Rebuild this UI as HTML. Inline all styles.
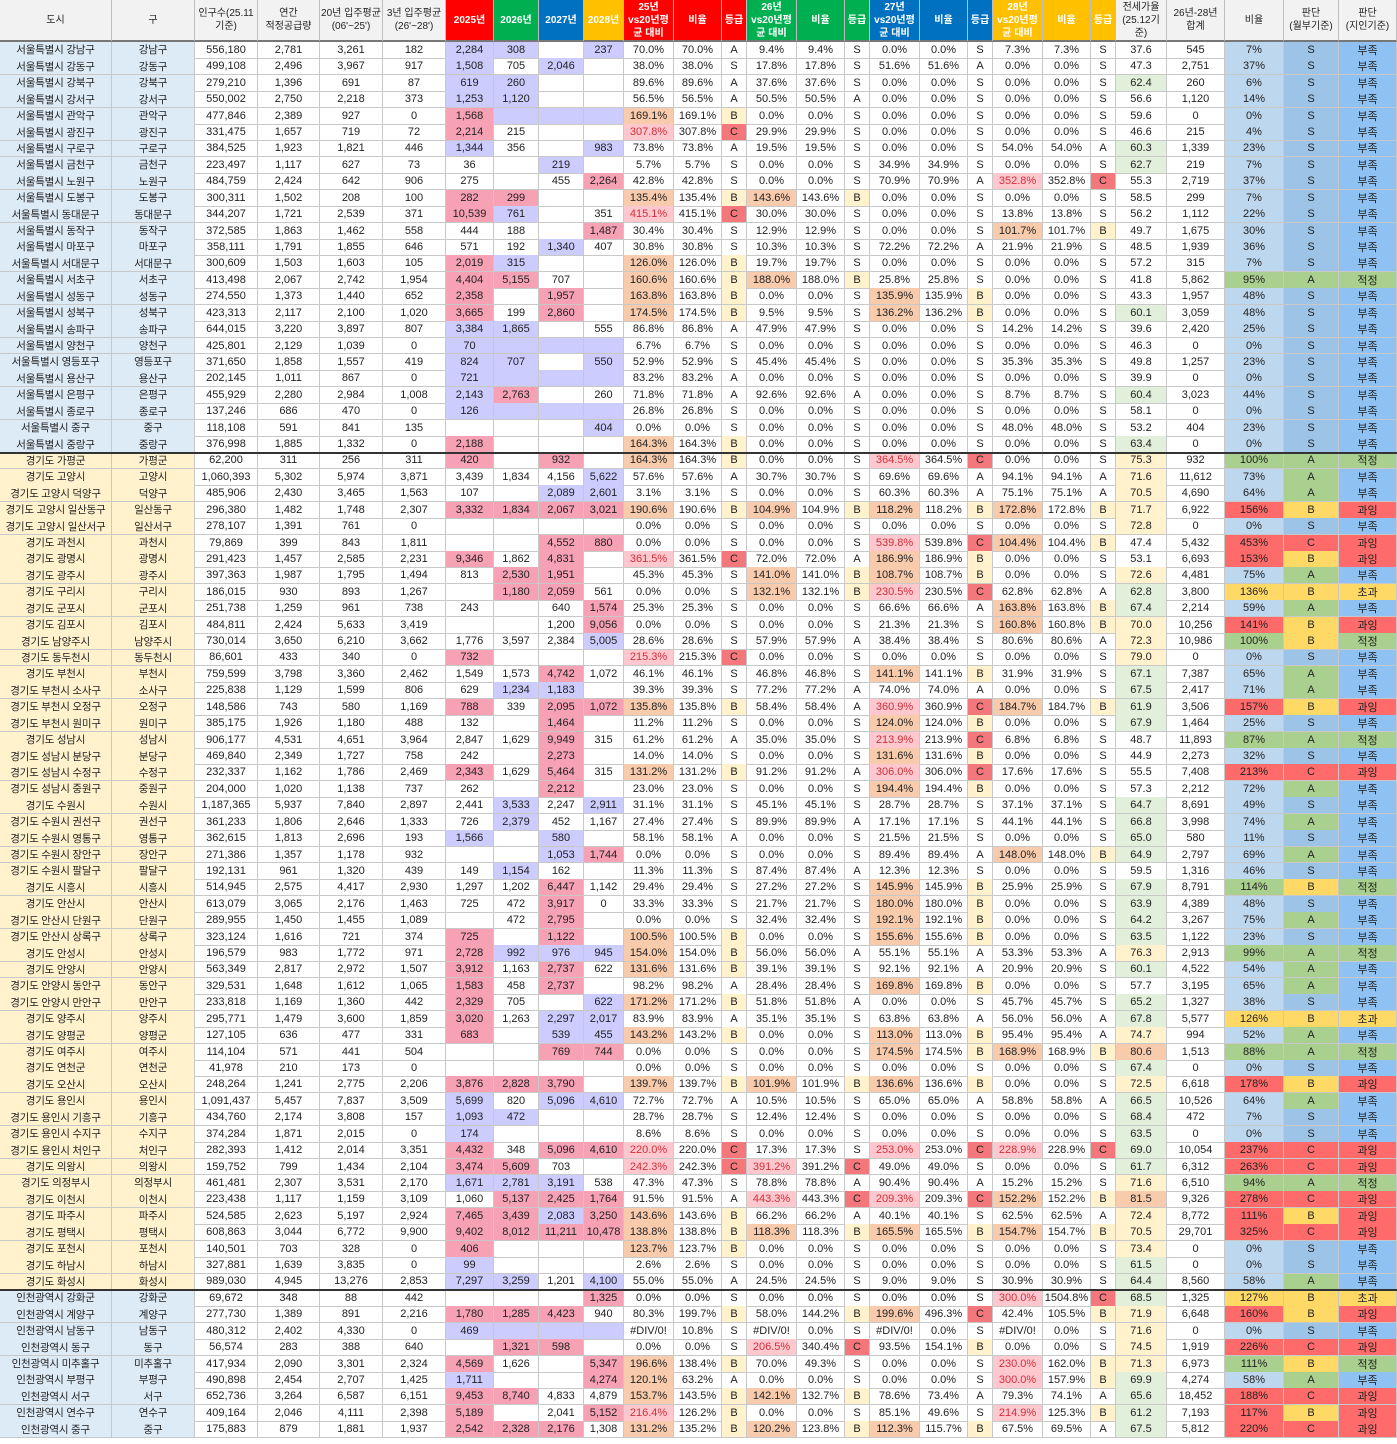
<!DOCTYPE html>
<html lang="ko"><head><meta charset="utf-8">
<style>
html,body{margin:0;padding:0;background:#fff;}
body{width:1397px;height:1444px;position:relative;overflow:hidden;font-family:"Liberation Sans","Noto Sans CJK KR",sans-serif;}
.c{position:absolute;box-sizing:border-box;border-right:1px solid #c8c8c8;border-bottom:1px solid #c8c8c8;font-size:11px;color:#222;display:flex;align-items:center;justify-content:center;text-align:center;white-space:nowrap;overflow:hidden;}
.h{font-size:10px;line-height:13px;white-space:normal;background:#f2f2f2;border-right:1px solid #bdbdbd;border-bottom:2px solid #777;}
.hw{color:#fff;font-weight:bold;}
.nm{font-size:10.5px;letter-spacing:-0.2px;}
</style></head><body>
<div id="sheet"></div>
<script>
const widths=[112,83,63,62,63,63,48,45,45,40,50,48,25,50,48,25,50,48,25,50,48,25,51,58,59,55,58];
const headers=["도시","구","인구수(25.11<br>기준)","연간<br>적정공급량","20년 입주평균<br>(06'~25')","3년 입주평균<br>(26'~28')","2025년","2026년","2027년","2028년","25년<br>vs20년평<br>균 대비","비율","등급","26년<br>vs20년평<br>균 대비","비율","등급","27년<br>vs20년평<br>균 대비","비율","등급","28년<br>vs20년평<br>균 대비","비율","등급","전세가율<br>(25.12기<br>준)","26년-28년<br>합계","비율","판단<br>(월부기준)","판단<br>(지인기준)"];
const headerBg=[null,null,null,null,null,null,"#ff0000","#00b050","#0070c0","#ffc000","#ff0000","#ff0000","#ff0000","#00b050","#00b050","#00b050","#0070c0","#0070c0","#0070c0","#ffc000","#ffc000","#ffc000",null,null,null,null,null];
const seoul=[
"강남구|556,180|2,781|3,261|182|2,284|308||237|70.0|A|9.4|S|0.0|S|7.3|S|37.6|545|7|S|부족|LL.L",
"강동구|499,108|2,496|3,967|917|1,508|705|2,046||38.0|S|17.8|S|51.6|A|0.0|S|47.3|2,751|37|S|부족|L.L.",
"강북구|279,210|1,396|691|87|619|260|||89.6|A|37.6|S|0.0|S|0.0|S|62.4|260|6|S|부족|LL..",
"강서구|550,002|2,750|2,218|373|1,253|1,120|||56.5|A|50.5|A|0.0|S|0.0|S|56.6|1,120|14|S|부족|LL..",
"관악구|477,846|2,389|927|0|1,568||||169.1|B|0.0|S|0.0|S|0.0|S|59.6|0|0|S|부족|PLLL",
"광진구|331,475|1,657|719|72|2,214|215|||307.8|C|29.9|S|0.0|S|0.0|S|46.6|215|4|S|부족|P...",
"구로구|384,525|1,923|1,821|446|1,344|356||983|73.8|A|19.5|S|0.0|S|54.0|A|60.3|1,339|23|S|부족|L..L",
"금천구|223,497|1,117|627|73|36||219||5.7|S|0.0|S|34.9|S|0.0|S|62.7|219|7|S|부족|..L.",
"노원구|484,759|2,424|642|906|275||455|2,264|42.8|S|0.0|S|70.9|A|352.8|C|55.3|2,719|37|S|부족|...P",
"도봉구|300,311|1,502|208|100|282|299|||135.4|B|143.6|B|0.0|S|0.0|S|58.5|299|7|S|부족|PP..",
"동대문구|344,207|1,721|2,539|371|10,539|761||351|415.1|C|30.0|S|0.0|S|13.8|S|56.2|1,112|22|S|부족|PL..",
"동작구|372,585|1,863|1,462|558|444|188||1,487|30.4|S|12.9|S|0.0|S|101.7|B|49.7|1,675|30|S|부족|...P",
"마포구|358,111|1,791|1,855|646|571|192|1,340|407|30.8|S|10.3|S|72.2|A|21.9|S|48.5|1,939|36|S|부족|..L.",
"서대문구|300,609|1,503|1,603|105|2,019|315|||126.0|B|19.7|S|0.0|S|0.0|S|57.2|315|7|S|부족|PL..",
"서초구|413,498|2,067|2,742|1,954|4,404|5,155|707||160.6|B|188.0|B|25.8|S|0.0|S|41.8|5,862|95|A|적정|PP..",
"성동구|274,550|1,373|1,440|652|2,358||1,957||163.8|B|0.0|S|135.9|B|0.0|S|43.3|1,957|48|S|부족|P.P.",
"성북구|423,313|2,117|2,100|1,020|3,665|199|2,860||174.5|B|9.5|S|136.2|B|0.0|S|60.1|3,059|48|S|부족|P.P.",
"송파구|644,015|3,220|3,897|807|3,384|1,865||555|86.8|A|47.9|S|0.0|S|14.2|S|39.6|2,420|25|S|부족|LL..",
"양천구|425,801|2,129|1,039|0|70||||6.7|S|0.0|S|0.0|S|0.0|S|46.3|0|0|S|부족|LLLL",
"영등포구|371,650|1,858|1,557|419|824|707||550|52.9|S|45.4|S|0.0|S|35.3|S|49.8|1,257|23|S|부족|LL.L",
"용산구|202,145|1,011|867|0|721||||83.2|A|0.0|S|0.0|S|0.0|S|39.9|0|0|S|부족|LLLL",
"은평구|455,929|2,280|2,984|1,008|2,143|2,763||260|71.8|A|92.6|A|0.0|S|8.7|S|60.4|3,023|44|S|부족|LP..",
"종로구|137,246|686|470|0|126||||26.8|S|0.0|S|0.0|S|0.0|S|58.1|0|0|S|부족|LLLL",
"중구|118,108|591|841|135||||404|0.0|S|0.0|S|0.0|S|48.0|S|53.2|404|23|S|부족|...L",
"중랑구|376,998|1,885|1,332|0|2,188||||164.3|B|0.0|S|0.0|S|0.0|S|63.4|0|0|S|부족|P..."];
const gyeonggi=[
"가평군|62,200|311|256|311|420||932||164.3|B|0.0|S|364.5|C|0.0|S|75.3|932|100|A|적정|P.P.",
"고양시|1,060,393|5,302|5,974|3,871|3,439|1,834|4,156|5,622|57.6|A|30.7|S|69.6|A|94.1|A|71.6|11,612|73|A|부족|...L",
"고양시 덕양구|485,906|2,430|3,465|1,563|107||2,089|2,601|3.1|S|0.0|S|60.3|A|75.1|A|70.5|4,690|64|A|부족|..LL",
"고양시 일산동구|296,380|1,482|1,748|2,307|3,332|1,834|2,067|3,021|190.6|B|104.9|B|118.2|B|172.8|B|71.7|6,922|156|B|과잉|PPPP",
"고양시 일산서구|278,107|1,391|761|0|||||0.0|S|0.0|S|0.0|S|0.0|S|72.8|0|0|S|부족|....",
"과천시|79,869|399|843|1,811|||4,552|880|0.0|S|0.0|S|539.8|C|104.4|B|47.4|5,432|453|C|과잉|..PP",
"광명시|291,423|1,457|2,585|2,231|9,346|1,862|4,831||361.5|C|72.0|A|186.9|B|0.0|S|53.1|6,693|153|B|과잉|P.P.",
"광주시|397,363|1,987|1,795|1,494|813|2,530|1,951||45.3|S|141.0|B|108.7|B|0.0|S|72.6|4,481|75|A|부족|.PP.",
"구리시|186,015|930|893|1,267||1,180|2,059|561|0.0|S|132.1|B|230.5|C|62.8|A|62.8|3,800|136|B|초과|.PP.",
"군포시|251,738|1,259|961|738|243||640|1,574|25.3|S|0.0|S|66.6|A|163.8|B|67.4|2,214|59|A|부족|...P",
"김포시|484,811|2,424|5,633|3,419|||1,200|9,056|0.0|S|0.0|S|21.3|S|160.8|B|70.0|10,256|141|B|과잉|...P",
"남양주시|730,014|3,650|6,210|3,662|1,776|3,597|2,384|5,005|28.6|S|57.9|A|38.4|S|80.6|A|72.3|10,986|100|B|적정|...L",
"동두천시|86,601|433|340|0|732||||215.3|C|0.0|S|0.0|S|0.0|S|79.0|0|0|S|부족|P...",
"부천시|759,599|3,798|3,360|2,462|1,549|1,573|4,742|1,072|46.1|S|46.8|S|141.1|B|31.9|S|67.1|7,387|65|A|부족|..P.",
"부천시 소사구|225,838|1,129|1,599|806|629|1,234|1,183||39.3|S|77.2|A|74.0|A|0.0|S|67.5|2,417|71|A|부족|.LL.",
"부천시 오정구|148,586|743|580|1,169|788|339|2,095|1,072|135.8|B|58.4|A|360.9|C|184.7|B|61.9|3,506|157|B|과잉|P.PP",
"부천시 원미구|385,175|1,926|1,180|488|132||1,464||11.2|S|0.0|S|124.0|B|0.0|S|67.9|1,464|25|S|부족|..P.",
"성남시|906,177|4,531|4,651|3,964|2,847|1,629|9,949|315|61.2|A|35.0|S|213.9|C|6.8|S|48.7|11,893|87|A|적정|..P.",
"성남시 분당구|469,840|2,349|1,727|758|242||2,273||14.0|S|0.0|S|131.6|B|0.0|S|44.9|2,273|32|S|부족|..P.",
"성남시 수정구|232,337|1,162|1,786|2,469|2,343|1,629|5,464|315|131.2|B|91.2|A|306.0|C|17.6|S|55.5|7,408|213|C|과잉|P.P.",
"성남시 중원구|204,000|1,020|1,138|737|262||2,212||23.0|S|0.0|S|194.4|B|0.0|S|57.3|2,212|72|A|부족|..P.",
"수원시|1,187,365|5,937|7,840|2,897|2,441|3,533|2,247|2,911|31.1|S|45.1|S|28.7|S|37.1|S|64.7|8,691|49|S|부족|.L.L",
"수원시 권선구|361,233|1,806|2,646|1,333|726|2,379|452|1,167|27.4|S|89.9|A|17.1|S|44.1|S|66.8|3,998|74|A|부족|.L..",
"수원시 영통구|362,615|1,813|2,696|193|1,566||580||58.1|A|0.0|S|21.5|S|0.0|S|65.0|580|11|S|부족|L.L.",
"수원시 장안구|271,386|1,357|1,178|932|||1,053|1,744|0.0|S|0.0|S|89.4|A|148.0|B|64.9|2,797|69|A|부족|..LP",
"수원시 팔달구|192,131|961|1,320|439|149|1,154|162||11.3|S|87.4|A|12.3|S|0.0|S|59.5|1,316|46|S|부족|.L..",
"시흥시|514,945|2,575|4,417|2,930|1,297|1,202|6,447|1,142|29.4|S|27.2|S|145.9|B|25.9|S|67.9|8,791|114|B|적정|..P.",
"안산시|613,079|3,065|2,176|1,463|725|472|3,917|0|33.3|S|21.7|S|180.0|B|0.0|S|63.9|4,389|48|S|부족|..P.",
"안산시 단원구|289,955|1,450|1,455|1,089||472|2,795||0.0|S|32.4|S|192.1|B|0.0|S|64.2|3,267|75|A|부족|..P.",
"안산시 상록구|323,124|1,616|721|374|725||1,122||100.5|B|0.0|S|155.6|B|0.0|S|63.5|1,122|23|S|부족|P.P.",
"안성시|196,579|983|1,772|971|2,728|992|976|945|154.0|B|56.0|A|55.1|A|53.3|A|76.3|2,913|99|A|적정|PLLL",
"안양시|563,349|2,817|2,972|1,507|3,912|1,163|2,737|622|131.6|B|39.1|S|92.1|A|20.9|S|60.1|4,522|54|A|부족|P.P.",
"안양시 동안구|329,531|1,648|1,612|1,065|1,583|458|2,737||98.2|A|28.4|S|169.8|B|0.0|S|57.7|3,195|65|A|부족|P.P.",
"안양시 만안구|233,818|1,169|1,360|442|2,329|705||622|171.2|B|51.8|A|0.0|S|45.7|S|65.2|1,327|38|S|부족|P..L",
"양주시|295,771|1,479|3,600|1,859|3,020|1,263|2,297|2,017|83.9|A|35.1|S|63.8|A|56.0|A|67.8|5,577|126|B|초과|P.LL",
"양평군|127,105|636|477|331|683||539|455|143.2|B|0.0|S|113.0|B|95.4|A|74.7|994|52|A|부족|P.LL",
"여주시|114,104|571|441|504|||769|744|0.0|S|0.0|S|174.5|B|168.9|B|80.6|1,513|88|A|적정|..PP",
"연천군|41,978|210|173|0|||||0.0|S|0.0|S|0.0|S|0.0|S|67.4|0|0|S|부족|....",
"오산시|248,264|1,241|2,775|2,206|3,876|2,828|3,790||139.7|B|101.9|B|136.6|B|0.0|S|72.5|6,618|178|B|과잉|PPP.",
"용인시|1,091,437|5,457|7,837|3,509|5,699|820|5,096|4,610|72.7|A|10.5|S|65.0|A|58.8|A|66.5|10,526|64|A|부족|L.LL",
"용인시 기흥구|434,760|2,174|3,808|157|1,093|472|||28.7|S|12.4|S|0.0|S|0.0|S|68.4|472|7|S|부족|LL..",
"용인시 수지구|374,284|1,871|2,015|0|174||||8.6|S|0.0|S|0.0|S|0.0|S|63.5|0|0|S|부족|L...",
"용인시 처인구|282,393|1,412|2,014|3,351|4,432|348|5,096|4,610|220.0|C|17.3|S|253.0|C|228.9|C|69.0|10,054|237|C|과잉|P.PP",
"의왕시|159,752|799|1,434|2,104|3,474|5,609|703||242.3|C|391.2|C|49.0|S|0.0|S|61.7|6,312|263|C|과잉|PP..",
"의정부시|461,481|2,307|3,531|2,170|1,671|2,781|3,191|538|47.3|S|78.8|A|90.4|A|15.2|S|71.6|6,510|94|A|적정|LLL.",
"이천시|223,438|1,117|1,159|3,109|1,060|5,137|2,425|1,764|91.5|A|443.3|C|209.3|C|152.2|B|81.5|9,326|278|C|과잉|.PPP",
"파주시|524,585|2,623|5,197|2,924|7,465|3,439|2,083|3,250|143.6|B|66.2|A|40.1|S|62.5|A|72.4|8,772|111|B|과잉|PPLP",
"평택시|608,863|3,044|6,772|9,900|9,402|8,012|11,211|10,478|138.8|B|118.3|B|165.5|B|154.7|B|70.5|29,701|325|C|과잉|PPPP",
"포천시|140,501|703|328|0|406||||123.7|B|0.0|S|0.0|S|0.0|S|73.4|0|0|S|부족|P...",
"하남시|327,881|1,639|3,835|0|99||||2.6|S|0.0|S|0.0|S|0.0|S|61.5|0|0|S|부족|L...",
"화성시|989,030|4,945|13,276|2,853|7,297|3,259|1,201|4,100|55.0|A|24.5|S|9.0|S|30.9|S|64.4|8,560|58|A|부족|LL.L"];
const incheon=[
"강화군|69,672|348|88|442||||1,325|0.0|S|0.0|S|0.0|S|300.0~1504.8|C|68.5|1,325|127|B|초과|...P",
"계양구|277,730|1,389|891|2,216|1,780|1,285|4,423|940|80.3~199.7|B|58.0~144.2|B|199.6~496.3|C|42.4~105.5|B|71.9|6,648|160|B|과잉|PPP.",
"남동구|480,312|2,402|4,330|0|469||||#DIV/0!~10.8|S|#DIV/0!~0.0|S|#DIV/0!~0.0|S|#DIV/0!~0.0|S|71.6|0|0|S|부족|LLLL",
"동구|56,574|283|388|640||1,321|598||0.0|S|206.5~340.4|C|93.5~154.1|B|0.0|S|74.5|1,919|226|C|과잉|.PP.",
"미추홀구|417,934|2,090|3,301|2,324|4,569|1,626||5,347|196.6~138.4|B|70.0~49.3|S|0.0|S|230.0~162.0|B|71.3|6,973|111|B|적정|P..P",
"부평구|490,898|2,454|2,707|1,425|1,711|||4,274|120.1~63.2|A|0.0|S|0.0|S|300.0~157.9|B|69.9|4,274|58|A|부족|L..P",
"서구|652,736|3,264|6,587|6,151|9,453|8,740|4,833|4,879|153.7~143.5|B|142.1~132.7|B|78.6~73.4|A|79.3~74.1|A|65.6|18,452|188|C|과잉|PP..",
"연수구|409,164|2,046|4,111|2,398|5,189||2,041|5,152|216.4~126.2|B|0.0|S|85.1~49.6|S|214.9~125.3|B|61.2|7,193|117|B|과잉|P..P",
"중구|175,883|879|1,881|1,937|2,542|2,328|2,176|1,308|131.2~135.2|B|120.2~123.8|B|112.3~115.7|B|67.5~69.5|A|67.5|5,812|220|C|과잉|PPP."];

const sheet=document.getElementById('sheet');
const xs=[];let acc=0;for(const w of widths){xs.push(acc);acc+=w;}
const HEAD=42, RH=16.42;
function mk(x,y,w,h,html,bg,color,cls){
  const d=document.createElement('div');
  d.className='c'+(cls?' '+cls:'');
  d.style.left=x+'px';d.style.top=y+'px';d.style.width=w+'px';d.style.height=h+'px';
  if(bg)d.style.background=bg; if(color)d.style.color=color;
  d.innerHTML=html; sheet.appendChild(d); return d;
}
headers.forEach((t,i)=>{
  const d=mk(xs[i],0,widths[i],HEAD,t,headerBg[i],null,'h'+(headerBg[i]?' hw':''));
  
  
});
const gradeBg={S:null,A:null,B:'#fff2cc',C:'#f4787b'};
const j1Bg={S:'#9dc3e6',A:'#a9d08e',B:'#ffd966',C:'#ff6b6b'};
const j2Bg={'부족':'#8fc1f2','적정':'#a9d08e','초과':'#ffd966','과잉':'#ff6b6b'};
const ratioBg={'부족':'#bdd7ee','적정':'#a9d08e','초과':'#ffd966','과잉':'#ff6b6b'};
function pctCell(v){return v.startsWith('#')?v:v+'%';}
function vsBg(v){const n=parseFloat(v);if(isNaN(n))return [null,null];if(n>200)return ['#ffc7ce','#d0303a'];if(n>=100)return ['#f8cbad',null];return [null,null];}
function jsBg(v){const n=parseFloat(v);if(n>=80)return '#f8cbad';if(n>=70)return '#fff2cc';if(n>=60)return '#e2efda';return null;}
const all=[];
seoul.forEach(r=>all.push(['서울특별시',r,'#ddebf7']));
gyeonggi.forEach(r=>all.push(['경기도',r,'#fff2cc']));
incheon.forEach(r=>all.push(['인천광역시',r,'#ddebf7']));
all.forEach((item,ri)=>{
  const [prov,row,rbg]=item;
  const f=row.split('|');
  const y=HEAD+ri*RH;
  const name=f[0];const gu=name.split(' ').pop();
  const cells=[];
  cells.push([prov+' '+name,rbg,null,'nm']);
  cells.push([gu,rbg,null,'nm']);
  for(let k=1;k<=4;k++)cells.push([f[k],null,null]);
  const hl=f[22];
  for(let k=0;k<4;k++){const c=hl[k];cells.push([f[5+k],c==='P'?'#f7a1b5':(c==='L'?'#ccccff':null),null]);}
  for(let k=0;k<4;k++){
    const parts=f[9+2*k].split('~');const a=parts[0],b=parts.length>1?parts[1]:parts[0];
    const vb=vsBg(a);
    cells.push([pctCell(a),vb[0],vb[1]]);
    cells.push([pctCell(b),null,null]);
    const g=f[10+2*k];
    cells.push([g,gradeBg[g],null]);
  }
  cells.push([f[17],jsBg(f[17]),null]);
  cells.push([f[18],null,null]);
  cells.push([f[19]+'%',ratioBg[f[21]],null]);
  cells.push([f[20],j1Bg[f[20]],null]);
  cells.push([f[21],j2Bg[f[21]],null]);
  const rowEl=document.createElement('div');
  
  
  sheet.appendChild(rowEl);
  cells.forEach((c,ci)=>{
    const d=mk(xs[ci],y,widths[ci],RH+0.5,c[0],c[1],c[2],c[3]);
    
    
    rowEl.appendChild(d);
  });
});
[25,76].forEach(i=>{
  const s=document.createElement('div');
  s.style.cssText='position:absolute;left:0;width:1397px;height:2px;background:#333;top:'+(HEAD+i*RH-1)+'px';
  
  
  sheet.appendChild(s);
});
</script>
</body></html>
